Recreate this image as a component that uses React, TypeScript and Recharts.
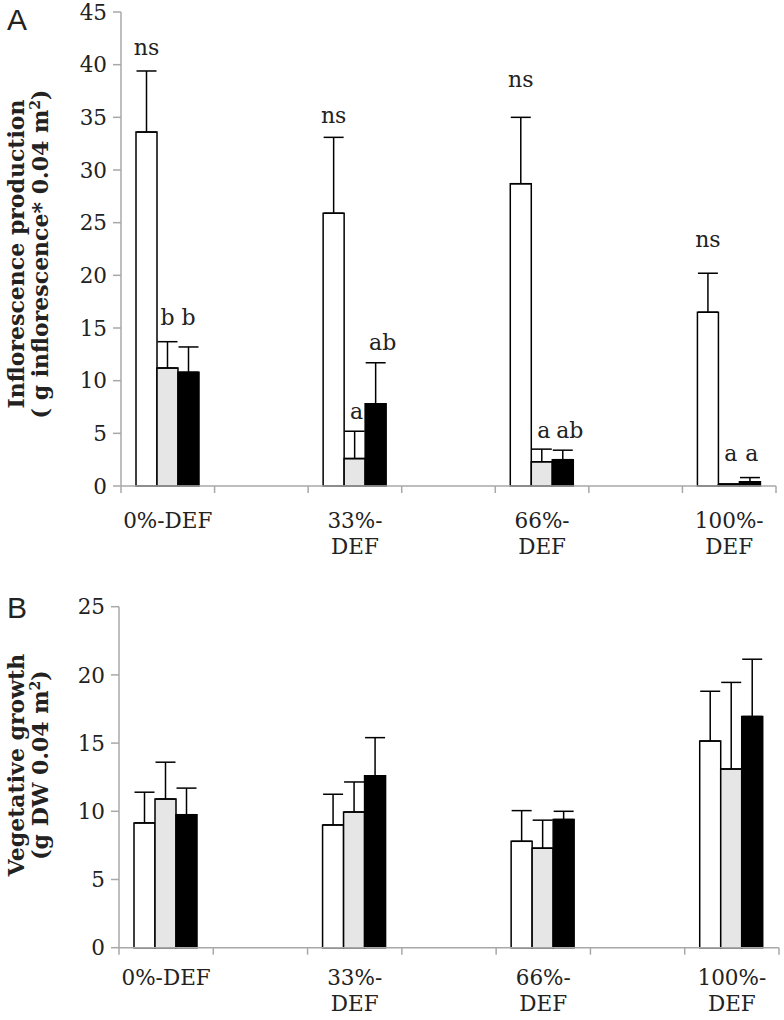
import React from 'react';
import { BarChart, Bar, XAxis, YAxis, ErrorBar } from 'recharts';

// treatments; Excel left an empty category between each pair
const groups = ['0%-DEF', '33%-DEF', '66%-DEF', '100%-DEF'];
const groupLines = [['0%-DEF'], ['33%-', 'DEF'], ['66%-', 'DEF'], ['100%-', 'DEF']];

// A: inflorescence production
const inflWhite = [33.6, 25.9, 28.7, 16.5];
const inflWhiteSe = [5.8, 7.2, 6.3, 3.7];
const inflGrey = [11.2, 2.6, 2.3, 0.15];
const inflGreySe = [2.5, 2.6, 1.2, 0.05];
const inflBlack = [10.8, 7.8, 2.5, 0.4];
const inflBlackSe = [2.4, 3.9, 0.9, 0.4];
const inflWhiteTxt = ['ns', 'ns', 'ns', 'ns'];
const inflWhiteAt = [41.6, 35.2, 38.6, 23.4];
const inflGreyTxt = ['b', 'a', 'a', 'a'];
const inflGreyAt = [16.0, 7.1, 5.3, 3.1];
const inflBlackTxt = ['b', 'ab', 'ab', 'a'];
const inflBlackAt = [16.0, 13.6, 5.3, 3.1];
const inflTicks = [0, 5, 10, 15, 20, 25, 30, 35, 40, 45];

// B: vegetative growth
const vegWhite = [9.15, 9.0, 7.8, 15.15];
const vegWhiteSe = [2.25, 2.25, 2.25, 3.65];
const vegGrey = [10.9, 9.95, 7.3, 13.1];
const vegGreySe = [2.7, 2.2, 2.05, 6.35];
const vegBlack = [9.75, 12.6, 9.4, 16.95];
const vegBlackSe = [1.95, 2.8, 0.6, 4.2];
const vegTicks = [0, 5, 10, 15, 20, 25];

const serif = 'DejaVu Serif';
const axisGrey = '#a8a8a8';
const ink = '#222';

type Row = { [k: string]: any };

function buildRows(w: number[], wSe: number[], g: number[], gSe: number[], b: number[], bSe: number[]): Row[] {
  const rows: Row[] = [];
  groups.forEach((name, i) => {
    if (i > 0) rows.push({ name: 'gap' + i, lines: [] });
    rows.push({
      name,
      lines: groupLines[i],
      w: w[i], wErr: [0, wSe[i]],
      g: g[i], gErr: [0, gSe[i]],
      b: b[i], bErr: [0, bSe[i]],
    });
  });
  return rows;
}

const inflRows = buildRows(inflWhite, inflWhiteSe, inflGrey, inflGreySe, inflBlack, inflBlackSe);
const vegRows = buildRows(vegWhite, vegWhiteSe, vegGrey, vegGreySe, vegBlack, vegBlackSe);

// category tick: label lines plus Excel-style marks on the category boundaries
const makeTick = (rows: Row[], band: number, firstBase: number, lineGap: number) => (props: any) => {
  const { x, y, index } = props;
  const row = rows[index] || { lines: [] };
  const last = index === rows.length - 1;
  return (
    <g>
      <line x1={x - band / 2} x2={x - band / 2} y1={y} y2={y + 7} stroke={axisGrey} strokeWidth={1.5} />
      {last && <line x1={x + band / 2} x2={x + band / 2} y1={y} y2={y + 7} stroke={axisGrey} strokeWidth={1.5} />}
      {row.lines.map((t: string, k: number) => (
        <text key={k} x={x} y={y + firstBase + k * lineGap} textAnchor="middle" fontFamily={serif} fontSize={21.5} fill={ink}>
          {t}
        </text>
      ))}
    </g>
  );
};

// letters over the bars, placed at a value height using the bar's own scale
// (label index counts only the drawn bars, i.e. the four groups)
const makeNote = (vals: number[], txt: string[], at: number[]) => (props: any) => {
  const { x, y, width, height, index } = props;
  if (!txt[index]) return null;
  const perUnit = height / vals[index];
  const cy = y + height - at[index] * perUnit;
  const nudge = txt[index] === 'ab' ? 7 : txt[index] === 'a' ? 2 : 0;
  return (
    <text x={x + width / 2 + nudge} y={cy} textAnchor="middle" dominantBaseline="central" fontFamily={serif} fontSize={22} fill={ink}>
      {txt[index]}
    </text>
  );
};

const yTick = { fill: ink, fontSize: 21.5, fontFamily: serif };

function Panel({ rows, ticks, max, width, height, margin, yWidth, band, firstBase, notes }: any) {
  return (
    <BarChart width={width} height={height} data={rows} margin={margin} barCategoryGap={15} barGap={0}>
      <XAxis
        dataKey="name"
        interval={0}
        height={60}
        tickLine={false}
        tickSize={0}
        tickMargin={0}
        axisLine={{ stroke: axisGrey, strokeWidth: 1.5 }}
        tick={makeTick(rows, band, firstBase, 26)}
      />
      <YAxis
        domain={[0, max]}
        ticks={ticks}
        width={yWidth}
        tickSize={8}
        tickMargin={6}
        axisLine={{ stroke: axisGrey, strokeWidth: 1.5 }}
        tickLine={{ stroke: axisGrey, strokeWidth: 1.5 }}
        tick={yTick}
      />
      <Bar dataKey="w" fill="#ffffff" stroke="#000" strokeWidth={1.5} isAnimationActive={false}
        label={notes ? makeNote(notes.w, notes.wT, notes.wA) : undefined}>
        <ErrorBar dataKey="wErr" width={10} stroke="#000" strokeWidth={1.5} direction="y" />
      </Bar>
      <Bar dataKey="g" fill="#e6e6e6" stroke="#000" strokeWidth={1.5} isAnimationActive={false}
        label={notes ? makeNote(notes.g, notes.gT, notes.gA) : undefined}>
        <ErrorBar dataKey="gErr" width={10} stroke="#000" strokeWidth={1.5} direction="y" />
      </Bar>
      <Bar dataKey="b" fill="#000" stroke="#000" strokeWidth={1.5} isAnimationActive={false}
        label={notes ? makeNote(notes.b, notes.bT, notes.bA) : undefined}>
        <ErrorBar dataKey="bErr" width={10} stroke="#000" strokeWidth={1.5} direction="y" />
      </Bar>
    </BarChart>
  );
}

export default function App() {
  const titleStyle = { fontFamily: serif, fontWeight: 700, fontSize: 22, fill: ink } as const;
  const inflNotes = {
    w: inflWhite, wT: inflWhiteTxt, wA: inflWhiteAt,
    g: inflGrey, gT: inflGreyTxt, gA: inflGreyAt,
    b: inflBlack, bT: inflBlackTxt, bA: inflBlackAt,
  };
  return (
    <div style={{ position: 'absolute', left: 0, top: 0, width: 784, height: 1020, background: '#fff' }}>
      <div style={{ position: 'absolute', left: 0, top: 0 }}>
        <Panel
          rows={inflRows}
          ticks={inflTicks}
          max={45}
          width={784}
          height={560}
          margin={{ top: 12, right: 8, bottom: 14, left: 0 }}
          yWidth={121}
          band={655 / 7}
          firstBase={42}
          notes={inflNotes}
        />
      </div>
      <div style={{ position: 'absolute', left: 0, top: 560 }}>
        <Panel
          rows={vegRows}
          ticks={vegTicks}
          max={25}
          width={784}
          height={460}
          margin={{ top: 46.7, right: 5, bottom: 12.3, left: 0 }}
          yWidth={119}
          band={660 / 7}
          firstBase={37}
        />
      </div>
      <svg width={784} height={1020} style={{ position: 'absolute', left: 0, top: 0, pointerEvents: 'none' }}>
        <text x={7} y={30} fontFamily="Liberation Sans" fontSize={30} fill={ink}>A</text>
        <text x={7} y={618} fontFamily="Liberation Sans" fontSize={30} fill={ink}>B</text>

        <text x={24} y={254} transform="rotate(-90 24 254)" textAnchor="middle" {...titleStyle}>
          Inflorescence production
        </text>
        <text x={48} y={254} transform="rotate(-90 48 254)" textAnchor="middle" {...titleStyle}>
          ( g inflorescence* 0.04 m<tspan dy={-8} fontSize={14}>2</tspan><tspan dy={8}>)</tspan>
        </text>

        <text x={24} y={765} transform="rotate(-90 24 765)" textAnchor="middle" {...titleStyle}>
          Vegetative growth
        </text>
        <text x={48} y={765} transform="rotate(-90 48 765)" textAnchor="middle" {...titleStyle}>
          (g DW  0.04 m<tspan dy={-8} fontSize={14}>2</tspan><tspan dy={8}>)</tspan>
        </text>
      </svg>
    </div>
  );
}
